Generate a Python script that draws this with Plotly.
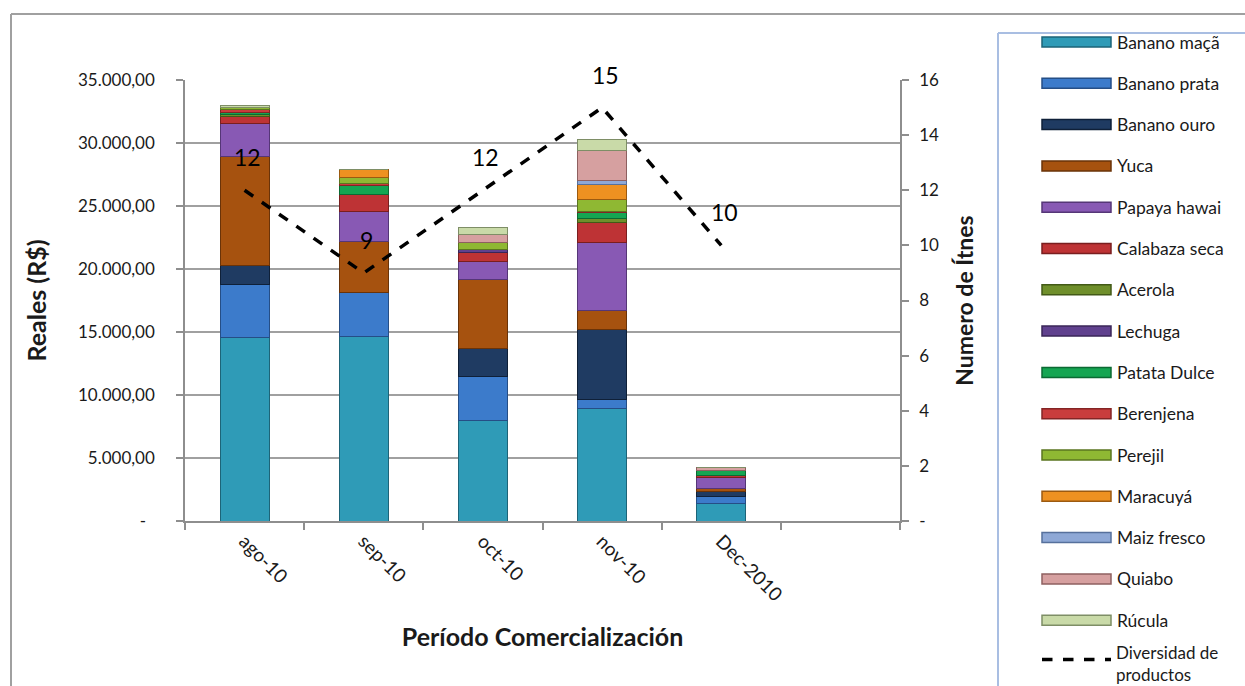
import plotly.graph_objects as go

# ---------------- data ----------------
categories = ["ago-10", "sep-10", "oct-10", "nov-10", "Dec-2010"]
spare_category = " "

series_names = ["Banano maçã", "Banano prata", "Banano ouro", "Yuca", "Papaya hawai",
                "Calabaza seca", "Acerola", "Lechuga", "Patata Dulce", "Berenjena",
                "Perejil", "Maracuyá", "Maiz fresco", "Quiabo", "Rúcula"]

banano_maca   = [14550, 14630, 7940, 8940, 1400]
banano_prata  = [4240, 3490, 3560, 720, 530]
banano_ouro   = [1450, 0, 2200, 5550, 400]
yuca          = [8670, 4080, 5480, 1460, 270]
papaya_hawai  = [2650, 2350, 1450, 5420, 870]
calabaza_seca = [550, 1380, 650, 1580, 180]
acerola       = [150, 0, 0, 350, 0]
lechuga       = [0, 0, 250, 0, 0]
patata_dulce  = [180, 660, 0, 450, 340]
berenjena     = [180, 210, 0, 130, 0]
perejil       = [180, 480, 600, 880, 0]
maracuya      = [0, 580, 0, 1240, 0]
maiz_fresco   = [0, 0, 0, 280, 0]
quiabo        = [0, 0, 600, 2440, 240]
rucula        = [200, 0, 600, 850, 0]

series_values = [banano_maca, banano_prata, banano_ouro, yuca, papaya_hawai,
                 calabaza_seca, acerola, lechuga, patata_dulce, berenjena,
                 perejil, maracuya, maiz_fresco, quiabo, rucula]

diversity_name = "Diversidad de<br>productos"
diversidad = [12, 9, 12, 15, 10]

y_left_ticks = [0, 5000, 10000, 15000, 20000, 25000, 30000, 35000]
y_left_labels = ["-  ", "5.000,00", "10.000,00", "15.000,00", "20.000,00",
                 "25.000,00", "30.000,00", "35.000,00"]
y_right_ticks = [0, 2, 4, 6, 8, 10, 12, 14, 16]
y_right_labels = ["-", "2", "4", "6", "8", "10", "12", "14", "16"]

# ---------------- styles ----------------
colors = ["#2F9BB7", "#3C7BCB", "#1F3B62", "#A6520F", "#8859B4",
          "#BE3335", "#6F8F2B", "#60418E", "#15A552", "#C93C3C",
          "#8FB833", "#EE9121", "#8EA8D6", "#D6A0A0", "#C9DAA8"]
edges = ["#1D6478", "#254E86", "#0F2038", "#6A3308", "#553677",
         "#7A1E1F", "#435A17", "#3A2658", "#0B6A33", "#842424",
         "#5B7620", "#9C5A10", "#56709C", "#8E6060", "#7E8E66"]

FONT = "Lato"
W, H = 1245, 686
PL, PR, PT, PB = 185, 900, 80, 521


def fx(p):
    return (p - PL) / (PR - PL)


def fy(p):
    return (PB - p) / (PB - PT)


fig = go.Figure()

for name, vals, c, e in zip(series_names, series_values, colors, edges):
    fig.add_trace(go.Bar(
        x=categories, y=vals, name=name, showlegend=False,
        marker=dict(color=c, line=dict(color=e, width=1)),
    ))

fig.add_trace(go.Scatter(
    x=categories, y=diversidad, name="Diversidad de productos", yaxis="y2",
    mode="lines", showlegend=False,
    line=dict(color="black", width=3.5, dash="dash"),
))

# value labels of the line
for cat, v in zip(categories, diversidad):
    fig.add_annotation(x=cat, y=v, yref="y2", text=str(v), showarrow=False,
                       yshift=33, xshift=3, font=dict(family=FONT, size=23, color="black"))

# ---------------- custom legend ----------------
shapes = []
row0, step = 42, 41.3
for i, (name, c, e) in enumerate(zip(series_names, colors, edges)):
    yc = row0 + i * step
    shapes.append(dict(type="rect", xref="paper", yref="paper",
                       x0=fx(1042), x1=fx(1111), y0=fy(yc - 5), y1=fy(yc + 5),
                       fillcolor=c, line=dict(color=e, width=1.5)))
    fig.add_annotation(xref="paper", yref="paper", x=fx(1115), y=fy(yc),
                       xanchor="left", yanchor="middle", text=name, showarrow=False,
                       font=dict(family=FONT, size=17.5, color="#1a1a1a"))
yc = row0 + 15 * step
shapes.append(dict(type="line", xref="paper", yref="paper",
                   x0=fx(1042), x1=fx(1111), y0=fy(yc - 2), y1=fy(yc - 2),
                   line=dict(color="black", width=3.5, dash="dash")))
fig.add_annotation(xref="paper", yref="paper", x=fx(1115), y=fy(686),
                   xanchor="left", yanchor="bottom", align="left", text=diversity_name,
                   showarrow=False, borderpad=0,
                   font=dict(family=FONT, size=17, color="#1a1a1a"))

# legend box border (light blue) and chart outer border (grey)
shapes.append(dict(type="line", xref="paper", yref="paper", x0=fx(998), x1=fx(998),
                   y0=fy(33), y1=fy(700), line=dict(color="#A9BEE2", width=2)))
shapes.append(dict(type="line", xref="paper", yref="paper", x0=fx(998), x1=fx(1260),
                   y0=fy(33), y1=fy(33), line=dict(color="#A9BEE2", width=2)))
shapes.append(dict(type="line", xref="paper", yref="paper", x0=fx(11), x1=fx(1260),
                   y0=fy(14), y1=fy(14), line=dict(color="#A0A0A0", width=2)))
shapes.append(dict(type="line", xref="paper", yref="paper", x0=fx(11), x1=fx(11),
                   y0=fy(14), y1=fy(700), line=dict(color="#A0A0A0", width=2)))

axis_grey = "#8E8E8E"
fig.update_layout(
    width=W, height=H,
    margin=dict(l=PL, r=W - PR, t=PT, b=H - PB, autoexpand=False),
    paper_bgcolor="white", plot_bgcolor="white",
    barmode="stack", bargap=0.59,
    showlegend=False,
    shapes=shapes,
    font=dict(family=FONT, size=17, color="#1a1a1a"),
    xaxis=dict(
        type="category", categoryorder="array",
        categoryarray=categories + [spare_category],
        range=[-0.5, 5.5],
        showline=True, linecolor=axis_grey, linewidth=1.5,
        ticks="outside", tickson="boundaries", ticklen=7, tickcolor=axis_grey, tickwidth=1.5,
        tickangle=45, tickfont=dict(family=FONT, size=19),
        title=dict(text="<b>Período Comercialización</b>", standoff=24,
                   font=dict(family=FONT, size=25)),
        showgrid=False, zeroline=False, automargin=False,
    ),
    yaxis=dict(
        range=[0, 35000], tickvals=y_left_ticks, ticktext=y_left_labels,
        showgrid=True, gridcolor="#A0A0A0", gridwidth=1.5,
        showline=True, linecolor=axis_grey, linewidth=1.5,
        ticks="outside", ticklen=7, tickcolor=axis_grey, tickwidth=1.5,
        ticklabelstandoff=18, tickfont=dict(family=FONT, size=17),
        title=dict(text="<b>Reales (R$)</b>", standoff=24,
                   font=dict(family=FONT, size=25)),
        zeroline=False, automargin=False,
    ),
    yaxis2=dict(
        overlaying="y", side="right", range=[0, 16],
        tickvals=y_right_ticks, ticktext=y_right_labels,
        showgrid=False, showline=True, linecolor=axis_grey, linewidth=1.5,
        ticks="outside", ticklen=7, tickcolor=axis_grey, tickwidth=1.5,
        ticklabelstandoff=7, tickfont=dict(family=FONT, size=17),
        title=dict(text="<b>Numero de Ítnes</b>", standoff=19,
                   font=dict(family=FONT, size=23)),
        zeroline=False, automargin=False,
    ),
)

fig.write_html("out.html")
